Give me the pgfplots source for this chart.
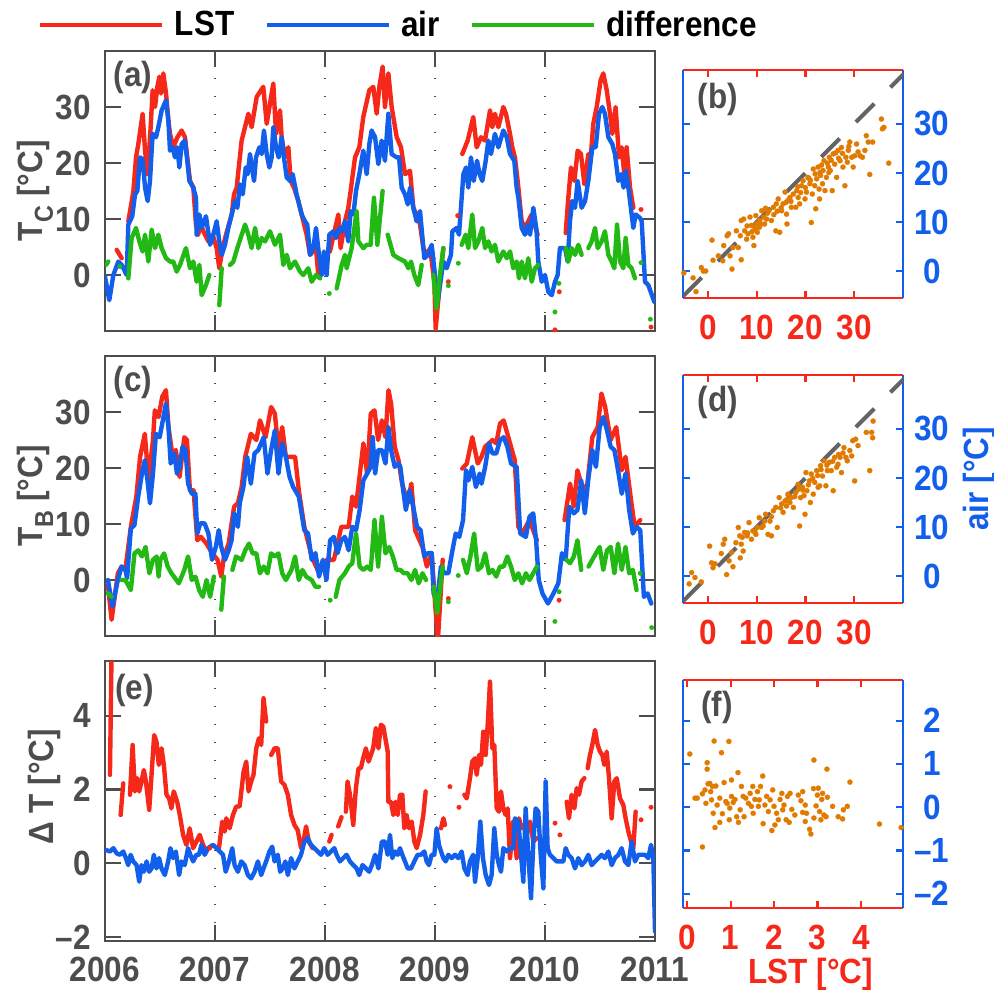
\documentclass[border=0pt]{standalone}
\usepackage{fontspec}
\setmainfont{Liberation Sans}[FakeStretch=0.9]
\usepackage{pgfplots}
\pgfplotsset{compat=1.18}
\definecolor{cred}{RGB}{245,40,25}
\definecolor{cblue}{RGB}{18,95,235}
\definecolor{cgreen}{RGB}{35,185,20}
\definecolor{corange}{RGB}{224,122,0}
\definecolor{cgray}{RGB}{77,77,77}
\definecolor{cdash}{RGB}{100,100,100}
\newcommand\ff{\fontsize{17.5}{20}\selectfont\bfseries}
\newcommand\sub[1]{\raisebox{-0.3em}{\fontsize{13}{13}\selectfont #1}}
\pgfplotsset{
 /pgf/number format/assume math mode=true,
 leftpanel/.style={
   scale only axis, width=275pt, height=140pt,
   xmin=2006, xmax=2011,
   xtick={2006,2007,2008,2009,2010,2011},
   xmajorgrids,
   grid style={cgray, line width=0.8pt, dash pattern=on 0.7pt off 8.3pt},
   axis line style={cgray, line width=1.15pt},
   tick style={cgray, line width=1.1pt},
   major tick length=8pt,
   tick align=inside, xtick pos=both, ytick pos=both,
   tick label style={font=\ff, text=cgray, inner sep=0pt},
   yticklabel style={anchor=east, xshift=-7pt},
   ylabel style={font=\ff, text=cgray, anchor=center},
   unbounded coords=jump,
   every axis plot/.append style={line width=2.2pt, line join=round, line cap=round},
 },
 dots/.style={only marks, mark=*, mark size=1.15pt, mark options={line width=0.1pt}, forget plot},
 rightpanel/.style={
   scale only axis, width=110pt, height=114pt,
   separate axis lines,
   x axis line style={cred, line width=1.1pt},
   y axis line style={cblue, line width=1.1pt},
   xtick style={cred, line width=1.1pt},
   ytick style={cblue, line width=1.1pt},
   major tick length=3.5pt,
   tick align=inside, xtick pos=both, ytick pos=both,
   yticklabel pos=right,
   xticklabel style={font=\ff, text=cred, inner sep=0pt, anchor=center, yshift=-14.8pt},
   yticklabel style={font=\ff, text=cblue, inner sep=0pt, anchor=center, xshift=14.3pt},
 },
 scat/.style={only marks, mark=*, mark size=1.3pt, color=corange, mark options={line width=0.1pt}},
 diag/.style={cdash, line width=2pt, dash pattern=on 13pt off 11.5pt},
}
\begin{document}
\begin{tikzpicture}
\useasboundingbox (0pt,0pt) rectangle (497pt,-494.5pt);

% ---------------- (a) ----------------
\begin{axis}[leftpanel, at={(52.5pt,-25.5pt)}, anchor=north west,
  ymin=-10, ymax=40, ytick={0,10,20,30}, yticklabels={0,10,20,30}, xticklabels={},
  ylabel={T\sub{C} [°C]}, ylabel style={at={(axis description cs:-0.127,0.5)}},
  legend columns=3,
  legend style={draw=none, fill=none, at={(-0.1218,1.0929)}, anchor=west, font=\ff, inner sep=0pt, outer sep=0pt,
    nodes={inner sep=0pt, text=black},
    /tikz/every odd column/.append style={column sep=5pt},
    /tikz/every even column/.append style={column sep=15pt}},
  legend image code/.code={\draw[#1, line width=2.4pt, line cap=butt] (0pt,0pt) -- (61pt,0pt);},
]
\addplot[cred] coordinates {(2006.106,4.5) (2006.152,3.0) (2006.18,nan)
(2006.212,9.6) (2006.233,12.0) (2006.258,15.0) (2006.282,21.0) (2006.303,23.4) (2006.342,28.8) (2006.364,22.2) (2006.388,18.0) (2006.415,26.4) (2006.433,33.0) (2006.455,30.0) (2006.476,33.6) (2006.494,35.4) (2006.509,32.4) (2006.530,36.0) (2006.555,32.4) (2006.576,27.6) (2006.591,25.2) (2006.621,22.8) (2006.658,24.6) (2006.697,25.8) (2006.727,24.6) (2006.748,21.0) (2006.773,16.8) (2006.803,15.6) (2006.827,9.0) (2006.848,7.2) (2006.864,9.6) (2006.894,7.8) (2006.939,6.0) (2006.979,7.2) (2007.015,4.8) (2007.039,1.2) (2007.070,4.8) (2007.100,7.2) (2007.152,10.8) (2007.173,14.4) (2007.197,15.6) (2007.242,24.0) (2007.273,26.4) (2007.303,28.8) (2007.333,26.4) (2007.379,31.8) (2007.439,33.6) (2007.470,27.0) (2007.530,34.2) (2007.555,25.2) (2007.591,29.4) (2007.606,24.6) (2007.636,21.0) (2007.667,22.8) (2007.688,16.8) (2007.718,15.6) (2007.758,13.2) (2007.788,10.8) (2007.833,7.2) (2007.864,3.6) (2007.918,4.8) (2007.939,0) (2007.99,nan)
(2008.045,4.2) (2008.121,10.8) (2008.142,4.8) (2008.182,9.6) (2008.212,12.0) (2008.233,15.0) (2008.273,21.0) (2008.312,22.8) (2008.348,28.2) (2008.403,33.0) (2008.439,33.6) (2008.470,28.8) (2008.494,33.6) (2008.524,37.2) (2008.545,30.0) (2008.576,36.0) (2008.606,30.0) (2008.652,24.6) (2008.691,22.8) (2008.727,18.0) (2008.773,18.6) (2008.803,12.0) (2008.833,10.8) (2008.864,9.0) (2008.894,4.8) (2008.924,3.6) (2008.955,4.8) (2008.994,-1.2) (2009.006,-9.6) (2009.045,-1.2) (2009.076,4.8) (2009.1,nan)
(2009.248,21.6) (2009.297,24.0) (2009.348,28.2) (2009.379,22.8) (2009.418,24.6) (2009.455,24.0) (2009.500,29.4) (2009.521,26.4) (2009.545,28.8) (2009.576,26.4) (2009.621,30.0) (2009.645,28.8) (2009.682,25.2) (2009.703,22.8) (2009.727,21.0) (2009.758,15.6) (2009.788,9.6) (2009.818,8.4) (2009.848,9.6) (2009.879,10.8) (2009.933,7.2) (2009.96,nan)
(2010.188,7.5) (2010.212,13.8) (2010.236,19.2) (2010.267,16.8) (2010.297,22.2) (2010.327,21.6) (2010.358,16.2) (2010.394,21.6) (2010.418,21.6) (2010.439,27.0) (2010.470,30.0) (2010.506,34.8) (2010.530,36.0) (2010.561,33.0) (2010.591,28.8) (2010.612,25.2) (2010.642,30.0) (2010.673,21.0) (2010.697,22.8) (2010.721,18.0) (2010.742,22.8) (2010.773,15.6) (2010.803,12.0)};
\addlegendentry{LST}
\addplot[cblue] coordinates {(2006.000,-0.3) (2006.039,-4.5) (2006.076,0) (2006.121,2.4) (2006.152,1.8) (2006.182,0.6) (2006.197,0) (2006.212,9.0) (2006.248,10.5) (2006.273,14.4) (2006.294,15.0) (2006.318,21.0) (2006.342,20.7) (2006.364,15.6) (2006.388,13.2) (2006.409,16.8) (2006.433,25.2) (2006.464,24.6) (2006.485,26.4) (2006.515,29.4) (2006.555,31.2) (2006.576,27.6) (2006.591,22.2) (2006.615,22.8) (2006.636,21.0) (2006.658,22.8) (2006.676,19.2) (2006.697,23.4) (2006.727,24.0) (2006.748,20.4) (2006.767,16.8) (2006.803,15.6) (2006.827,13.8) (2006.833,7.2) (2006.858,10.8) (2006.879,8.4) (2006.918,10.5) (2006.955,5.4) (2006.985,7.2) (2007.015,9.6) (2007.039,6.0) (2007.061,3.6) (2007.091,5.4) (2007.121,8.4) (2007.152,10.8) (2007.182,13.2) (2007.203,12.0) (2007.227,16.2) (2007.252,14.4) (2007.279,19.2) (2007.297,18.0) (2007.318,21.6) (2007.355,16.8) (2007.373,21.0) (2007.403,22.8) (2007.424,21.6) (2007.445,25.8) (2007.470,21.6) (2007.494,19.2) (2007.515,21.0) (2007.530,26.4) (2007.555,22.8) (2007.579,21.0) (2007.606,24.6) (2007.627,21.0) (2007.652,17.4) (2007.682,16.8) (2007.706,18.0) (2007.742,14.4) (2007.788,10.8) (2007.818,9.6) (2007.839,9.0) (2007.864,3.6) (2007.894,4.8) (2007.918,8.4) (2007.942,4.2) (2007.970,0) (2007.991,4.2) (2008.015,0) (2008.039,7.2) (2008.076,7.8) (2008.100,6.6) (2008.130,8.4) (2008.152,7.8) (2008.182,9.6) (2008.212,6.0) (2008.233,11.4) (2008.258,10.8) (2008.282,15.0) (2008.312,18.0) (2008.348,22.2) (2008.379,18.0) (2008.403,23.4) (2008.424,25.8) (2008.455,24.6) (2008.485,19.8) (2008.515,24.0) (2008.545,20.4) (2008.576,28.8) (2008.606,21.6) (2008.652,21.0) (2008.673,21.0) (2008.697,15.6) (2008.727,14.4) (2008.752,12.6) (2008.773,15.6) (2008.803,12.0) (2008.833,9.6) (2008.864,11.4) (2008.903,3.0) (2008.939,3.6) (2008.970,5.4) (2009.000,0) (2009.024,-4.8) (2009.076,2.4) (2009.106,1.2) (2009.145,3.6) (2009.158,7.8) (2009.197,8.4) (2009.218,7.2) (2009.236,12.0) (2009.258,18.0) (2009.282,19.2) (2009.303,15.6) (2009.327,21.0) (2009.352,16.8) (2009.382,20.4) (2009.406,18.0) (2009.430,16.8) (2009.461,20.4) (2009.485,24.0) (2009.509,21.6) (2009.545,25.2) (2009.576,22.8) (2009.621,25.8) (2009.652,24.6) (2009.682,21.6) (2009.721,20.4) (2009.742,15.6) (2009.758,13.8) (2009.788,8.4) (2009.818,7.2) (2009.842,9.0) (2009.864,7.2) (2009.894,12.0) (2009.924,7.8) (2009.939,2.4) (2009.970,-1.2) (2010.000,0) (2010.030,-3.0) (2010.061,-3.6) (2010.091,-1.2) (2010.115,0) (2010.136,4.8) (2010.182,4.8) (2010.206,2.4) (2010.227,9.6) (2010.248,13.2) (2010.273,12.0) (2010.297,16.8) (2010.333,12.0) (2010.364,13.2) (2010.394,16.8) (2010.430,22.8) (2010.461,22.8) (2010.491,28.8) (2010.521,30.0) (2010.545,28.8) (2010.576,24.6) (2010.612,23.4) (2010.636,21.6) (2010.667,16.8) (2010.691,18.0) (2010.715,15.6) (2010.733,18.6) (2010.758,15.6) (2010.803,8.4) (2010.824,10.8) (2010.864,10.2) (2010.879,9.6) (2010.909,-1.2) (2010.939,-1.8) (2010.994,-4.8)};
\addlegendentry{air}
\addplot[cgreen] coordinates {(2006.009,1.8) (2006.030,2.4) (2006.05,nan) (2006.212,-0.6) (2006.242,6.6) (2006.282,8.4) (2006.312,6.0) (2006.342,4.2) (2006.364,7.2) (2006.394,2.4) (2006.424,8.1) (2006.455,4.8) (2006.485,7.2) (2006.515,4.8) (2006.555,3.0) (2006.591,2.4) (2006.621,2.4) (2006.652,0.6) (2006.682,1.8) (2006.736,4.8) (2006.773,1.2) (2006.803,2.4) (2006.833,-1.2) (2006.858,1.8) (2006.879,-3.6) (2006.918,-1.8) (2006.948,0) (2006.97,nan) (2007.039,-5.4) (2007.061,1.2) (2007.08,nan) (2007.136,1.8) (2007.167,2.4) (2007.203,4.8) (2007.233,6.6) (2007.273,9.0) (2007.303,7.2) (2007.333,4.8) (2007.364,8.4) (2007.394,4.8) (2007.424,6.6) (2007.455,6.0) (2007.500,7.8) (2007.545,5.4) (2007.591,7.2) (2007.621,1.8) (2007.652,3.6) (2007.682,1.2) (2007.727,2.4) (2007.773,0.6) (2007.803,0) (2007.848,1.2) (2007.879,-1.2) (2007.918,0) (2007.955,-0.6) (2007.98,nan) (2008.106,-2.4) (2008.152,1.8) (2008.182,3.6) (2008.197,1.2) (2008.242,4.8) (2008.288,11.4) (2008.303,6.0) (2008.348,4.8) (2008.379,5.4) (2008.415,5.4) (2008.445,13.8) (2008.476,5.4) (2008.524,15.0) (2008.54,nan) (2008.570,7.2) (2008.621,3.6) (2008.667,3.0) (2008.727,2.4) (2008.758,1.2) (2008.782,2.4) (2008.812,0) (2008.848,-1.8) (2008.879,1.8) (2008.9,nan) (2008.985,0) (2009.015,-6.0) (2009.045,0) (2009.076,4.8) (2009.1,nan) (2009.242,5.4) (2009.279,7.2) (2009.303,4.8) (2009.339,10.8) (2009.364,4.8) (2009.394,6.0) (2009.430,8.4) (2009.455,4.8) (2009.485,6.0) (2009.515,4.2) (2009.545,5.4) (2009.576,2.4) (2009.621,4.2) (2009.652,3.0) (2009.682,4.2) (2009.712,1.2) (2009.742,2.4) (2009.764,-0.6) (2009.788,2.4) (2009.818,-0.6) (2009.848,3.0) (2009.879,-1.2) (2009.909,1.2) (2009.939,1.8) (2009.96,nan) (2010.188,4.8) (2010.212,2.4) (2010.242,4.8) (2010.273,3.6) (2010.303,5.4) (2010.333,3.6) (2010.36,nan) (2010.394,4.8) (2010.424,6.0) (2010.455,8.4) (2010.479,4.8) (2010.515,6.0) (2010.545,7.8) (2010.576,3.6) (2010.606,2.4) (2010.630,1.2) (2010.655,9.0) (2010.682,2.4) (2010.712,1.2) (2010.733,6.6) (2010.758,1.8) (2010.788,1.2) (2010.818,-0.6)};
\addlegendentry{difference}
\addplot[cred, dots] coordinates {(2009.121,-1.2) (2009.206,10.6) (2010.091,-9.8) (2010.13,-3.0) (2010.873,11.7) (2010.964,-9.3)};
\addplot[cgreen, dots] coordinates {(2006.136,1.5) (2008.039,-3.3) (2009.121,-1.9) (2009.212,2.1) (2010.091,-6.6) (2010.127,-1.5) (2010.873,2.2) (2010.958,-7.9)};
\node[font=\ff, text=cgray] at (rel axis cs:0.051,0.907) {(a)};
\end{axis}

% ---------------- (c) ----------------
\begin{axis}[leftpanel, at={(52.5pt,-178pt)}, anchor=north west,
  ymin=-10, ymax=40, ytick={0,10,20,30}, yticklabels={0,10,20,30}, xticklabels={},
  ylabel={T\sub{B} [°C]}, ylabel style={at={(axis description cs:-0.127,0.5)}}]
\addplot[cred] coordinates {(2006.027,-1.0) (2006.060,-7.1) (2006.117,1.2) (2006.151,2.4) (2006.185,1.8) (2006.235,9.5) (2006.285,14.9) (2006.319,22.0) (2006.362,26.1) (2006.396,17.8) (2006.436,25.0) (2006.453,30.3) (2006.487,29.1) (2006.520,32.7) (2006.554,33.9) (2006.577,27.3) (2006.611,22.6) (2006.644,23.2) (2006.678,18.4) (2006.721,25.5) (2006.745,25.0) (2006.772,16.0) (2006.805,16.0) (2006.839,7.1) (2006.872,7.7) (2006.923,6.5) (2006.973,4.8) (2007.023,3.6) (2007.057,0.6) (2007.081,4.2) (2007.124,6.5) (2007.174,13.1) (2007.208,13.7) (2007.242,16.6) (2007.275,22.0) (2007.326,26.1) (2007.376,25.0) (2007.409,28.5) (2007.460,25.5) (2007.510,30.9) (2007.544,29.7) (2007.577,23.2) (2007.611,27.3) (2007.644,22.0) (2007.728,22.0) (2007.762,16.0) (2007.812,9.5) (2007.879,4.2) (2007.946,1.2) (2008.013,3.6) (2008.081,3.6) (2008.114,6.5) (2008.148,9.5) (2008.215,9.5) (2008.248,14.9) (2008.282,13.1) (2008.349,24.4) (2008.383,19.0) (2008.416,29.7) (2008.450,30.3) (2008.483,25.0) (2008.517,28.5) (2008.550,25.5) (2008.577,33.9) (2008.601,31.5) (2008.634,23.8) (2008.668,21.4) (2008.701,17.2) (2008.752,13.7) (2008.785,17.2) (2008.819,8.9) (2008.886,5.9) (2008.926,2.4) (2008.970,4.8) (2009.003,-4.8) (2009.027,-10.5) (2009.070,3.6) (2009.09,nan) (2009.248,19.9) (2009.289,20.8) (2009.339,25.5) (2009.389,20.8) (2009.423,22.0) (2009.456,23.8) (2009.490,24.4) (2009.523,25.0) (2009.557,24.4) (2009.591,27.9) (2009.624,28.5) (2009.658,26.1) (2009.725,21.4) (2009.758,9.5) (2009.792,8.3) (2009.859,10.7) (2009.926,7.1) (2009.95,nan) (2010.178,10.7) (2010.228,17.2) (2010.262,13.1) (2010.295,19.6) (2010.329,17.2) (2010.379,16.0) (2010.430,25.5) (2010.480,27.3) (2010.513,33.3) (2010.547,30.9) (2010.597,25.0) (2010.648,27.3) (2010.698,19.6) (2010.732,22.0) (2010.782,14.3) (2010.815,9.5) (2010.866,10.7)};
\addplot[cblue] coordinates {(2006.027,0) (2006.067,-4.75) (2006.117,0) (2006.151,2.4) (2006.185,1.8) (2006.201,0.3) (2006.235,9.2) (2006.268,9.8) (2006.302,14.9) (2006.336,19.0) (2006.362,21.4) (2006.386,17.8) (2006.409,13.7) (2006.436,19.0) (2006.463,26.1) (2006.497,25.5) (2006.520,27.9) (2006.554,31.5) (2006.577,27.3) (2006.597,20.8) (2006.631,22.6) (2006.654,19.0) (2006.678,20.2) (2006.705,23.8) (2006.732,23.2) (2006.755,17.2) (2006.789,15.4) (2006.822,15.4) (2006.839,8.3) (2006.866,10.1) (2006.906,10.1) (2006.940,8.3) (2006.973,3.6) (2007.007,5.9) (2007.034,8.9) (2007.057,5.9) (2007.091,3.6) (2007.124,5.3) (2007.151,7.1) (2007.174,11.9) (2007.208,9.5) (2007.225,13.7) (2007.258,16.6) (2007.292,22.0) (2007.326,17.2) (2007.359,22.6) (2007.393,23.2) (2007.443,25.5) (2007.477,19.0) (2007.510,23.2) (2007.544,26.7) (2007.577,19.0) (2007.611,24.4) (2007.644,22.0) (2007.678,18.4) (2007.711,16.6) (2007.762,14.9) (2007.812,8.9) (2007.846,8.3) (2007.879,3.6) (2007.913,4.8) (2007.946,0.6) (2007.980,3.6) (2008.013,0) (2008.047,7.1) (2008.081,7.7) (2008.114,4.8) (2008.148,7.1) (2008.181,7.7) (2008.215,5.3) (2008.248,9.5) (2008.282,8.9) (2008.315,12.5) (2008.349,17.8) (2008.383,19.0) (2008.416,20.2) (2008.433,25.5) (2008.456,19.0) (2008.483,23.2) (2008.517,23.2) (2008.550,20.8) (2008.577,27.3) (2008.601,23.2) (2008.634,20.2) (2008.668,20.8) (2008.685,20.2) (2008.711,16.0) (2008.735,12.5) (2008.768,16.0) (2008.802,13.1) (2008.836,9.5) (2008.869,8.9) (2008.903,4.2) (2008.936,4.8) (2008.970,4.8) (2008.987,-2.4) (2009.020,-3.6) (2009.054,2.4) (2009.087,1.2) (2009.121,1.2) (2009.154,4.8) (2009.188,8.3) (2009.221,7.7) (2009.255,10.7) (2009.282,19.6) (2009.305,17.8) (2009.339,20.2) (2009.372,16.6) (2009.406,19.0) (2009.423,17.2) (2009.456,20.2) (2009.490,24.4) (2009.523,22.6) (2009.557,22.6) (2009.591,25.0) (2009.624,25.5) (2009.658,23.8) (2009.691,20.8) (2009.742,20.2) (2009.775,8.3) (2009.826,7.7) (2009.859,11.3) (2009.893,11.9) (2009.919,7.1) (2009.943,0) (2009.977,-2.4) (2010.027,-4.2) (2010.077,-2.4) (2010.121,-0.6) (2010.154,4.8) (2010.188,3.6) (2010.221,13.1) (2010.262,11.9) (2010.295,12.5) (2010.329,17.8) (2010.362,11.9) (2010.396,18.4) (2010.430,23.2) (2010.463,20.2) (2010.497,27.3) (2010.530,29.1) (2010.564,26.7) (2010.597,23.8) (2010.631,23.2) (2010.664,19.6) (2010.698,15.4) (2010.732,19.0) (2010.765,12.5) (2010.799,8.3) (2010.832,9.5) (2010.866,8.9) (2010.899,-3.0) (2010.933,-2.4) (2010.966,-4.2)};
\addplot[cgreen] coordinates {(2006.027,-2.4) (2006.060,-3.0) (2006.08,nan) (2006.151,0) (2006.185,0) (2006.235,-1.8) (2006.268,4.75) (2006.302,5.3) (2006.336,4.2) (2006.369,5.9) (2006.403,1.2) (2006.436,3.6) (2006.470,4.2) (2006.487,0.6) (2006.503,3.6) (2006.537,4.75) (2006.570,2.4) (2006.604,1.2) (2006.671,-0.6) (2006.721,1.8) (2006.755,4.2) (2006.789,0) (2006.822,0.6) (2006.856,-1.8) (2006.889,-3.0) (2006.923,0) (2006.956,-3.0) (2006.990,0.6) (2007.01,nan) (2007.057,-5.3) (2007.081,0.6) (2007.10,nan) (2007.158,1.8) (2007.191,4.2) (2007.242,3.6) (2007.275,5.3) (2007.309,6.5) (2007.342,4.75) (2007.376,4.75) (2007.409,1.2) (2007.443,2.4) (2007.477,1.2) (2007.510,4.75) (2007.544,4.2) (2007.577,4.75) (2007.611,1.2) (2007.644,0) (2007.695,1.8) (2007.728,4.2) (2007.762,0) (2007.795,1.8) (2007.829,0.6) (2007.879,0) (2007.913,-1.2) (2007.946,-1.2) (2007.97,nan) (2008.097,-3.0) (2008.131,0) (2008.181,1.2) (2008.215,2.4) (2008.248,3.0) (2008.282,8.3) (2008.315,2.4) (2008.349,1.8) (2008.383,2.4) (2008.416,1.8) (2008.450,10.7) (2008.483,2.4) (2008.517,11.3) (2008.550,4.75) (2008.584,5.9) (2008.617,4.2) (2008.651,1.8) (2008.685,1.8) (2008.718,1.2) (2008.752,1.2) (2008.785,0) (2008.819,1.8) (2008.852,-0.6) (2008.886,1.2) (2008.919,0) (2008.95,nan) (2008.987,-1.2) (2009.020,-5.9) (2009.070,2.4) (2009.09,nan) (2009.255,3.6) (2009.289,1.2) (2009.322,4.2) (2009.356,8.3) (2009.389,1.8) (2009.423,2.4) (2009.456,4.75) (2009.490,1.2) (2009.523,1.8) (2009.557,0.6) (2009.591,2.4) (2009.624,2.4) (2009.658,4.2) (2009.691,2.4) (2009.725,0) (2009.758,1.2) (2009.792,-0.6) (2009.826,1.2) (2009.859,0) (2009.893,1.2) (2009.926,2.4) (2009.95,nan) (2010.195,3.6) (2010.228,3.0) (2010.262,4.2) (2010.295,7.1) (2010.329,1.8) (2010.36,nan) (2010.396,2.4) (2010.430,3.6) (2010.463,4.75) (2010.497,5.9) (2010.530,1.8) (2010.564,5.3) (2010.597,5.9) (2010.631,1.2) (2010.664,6.5) (2010.698,1.8) (2010.732,5.9) (2010.765,1.2) (2010.799,1.8) (2010.832,-1.8)};
\addplot[cred, dots] coordinates {(2009.121,-3.3) (2010.128,-3.6)};
\addplot[cgreen, dots] coordinates {(2008.047,-3.6) (2009.121,-3.9) (2009.211,0.8) (2010.128,-2.1) (2010.866,1.2) (2010.09,-7.4) (2010.97,-8.5)};
\node[font=\ff, text=cgray] at (rel axis cs:0.051,0.904) {(c)};
\end{axis}

% ---------------- (e) ----------------
\begin{axis}[leftpanel, at={(52.5pt,-330.5pt)}, anchor=north west,
  ymin=-2.11, ymax=5.49, ytick={-2,0,2,4}, yticklabels={–2,0,2,4},
  xticklabels={2006,2007,2008,2009,2010,2011},
  xticklabel style={anchor=center, yshift=-14.2pt},
  ylabel={Δ T [°C]}, ylabel style={at={(axis description cs:-0.111,0.55)}}]
\addplot[cred] coordinates {(2006.045,2.40) (2006.060,5.8) (2006.07,nan) (2006.142,1.31) (2006.166,2.17) (2006.19,nan) (2006.227,1.86) (2006.251,3.21) (2006.272,1.95) (2006.293,2.31) (2006.311,1.95) (2006.332,2.22) (2006.353,2.53) (2006.372,2.22) (2006.402,1.45) (2006.423,2.40) (2006.447,3.48) (2006.468,3.30) (2006.489,2.67) (2006.514,3.12) (2006.535,2.67) (2006.559,1.86) (2006.583,1.76) (2006.604,1.49) (2006.625,1.95) (2006.656,1.67) (2006.680,1.31) (2006.710,0.77) (2006.740,0.50) (2006.770,0.95) (2006.801,0.41) (2006.831,0.59) (2006.861,0.77) (2006.891,0.50) (2006.921,0.32) (2006.94,nan) (2007.036,0.41) (2007.066,1.13) (2007.088,0.86) (2007.103,1.22) (2007.133,0.95) (2007.163,1.31) (2007.193,1.54) (2007.224,1.54) (2007.260,2.49) (2007.284,2.76) (2007.305,1.95) (2007.329,2.22) (2007.350,2.40) (2007.375,3.12) (2007.399,3.39) (2007.420,3.21) (2007.441,4.48) (2007.465,3.85) (2007.48,nan) (2007.511,2.94) (2007.541,3.12) (2007.571,3.12) (2007.601,2.22) (2007.631,2.13) (2007.662,1.86) (2007.692,1.31) (2007.722,1.04) (2007.752,0.90) (2007.782,0.41) (2007.804,0.59) (2007.828,1.00) (2007.852,0.59) (2007.888,0.41) (2007.90,nan) (2008.039,0.59) (2008.060,0.77) (2008.08,nan) (2008.12,1.0) (2008.15,1.25) (2008.17,nan) (2008.190,1.40) (2008.205,2.22) (2008.227,1.86) (2008.257,1.04) (2008.281,2.04) (2008.305,2.58) (2008.326,2.58) (2008.347,2.85) (2008.372,3.12) (2008.396,2.76) (2008.417,2.94) (2008.438,3.12) (2008.462,3.67) (2008.486,3.12) (2008.508,3.76) (2008.530,3.71) (2008.570,3.03) (2008.576,1.67) (2008.600,1.67) (2008.621,1.31) (2008.642,1.67) (2008.661,1.31) (2008.682,1.86) (2008.703,1.86) (2008.721,0.95) (2008.742,1.31) (2008.764,0.95) (2008.788,1.13) (2008.812,0.59) (2008.833,0.41) (2008.864,0.77) (2008.894,1.31) (2008.915,1.95) (2008.93,nan) (2009.055,0.95) (2009.076,1.22) (2009.091,1.04) (2009.10,nan) (2009.267,1.86) (2009.288,1.76) (2009.318,2.31) (2009.339,2.76) (2009.364,2.85) (2009.379,2.40) (2009.400,2.94) (2009.418,2.67) (2009.439,3.57) (2009.461,2.94) (2009.479,3.76) (2009.500,4.93) (2009.521,3.12) (2009.539,3.21) (2009.561,1.49) (2009.582,1.40) (2009.600,1.95) (2009.621,1.49) (2009.642,1.31) (2009.661,1.49) (2009.682,0.14) (2009.712,1.13) (2009.742,0.14) (2009.764,1.22) (2009.788,0.95) (2009.812,1.04) (2009.842,0.86) (2009.864,1.13) (2009.894,0.59) (2009.924,0.68) (2009.94,nan) (2010.197,1.67) (2010.218,1.22) (2010.242,1.86) (2010.267,1.49) (2010.288,2.04) (2010.309,1.86) (2010.333,2.22) (2010.358,2.31) (2010.37,nan) (2010.388,2.58) (2010.409,2.94) (2010.430,3.21) (2010.455,3.62) (2010.479,3.21) (2010.500,3.03) (2010.521,2.94) (2010.539,2.67) (2010.561,3.03) (2010.582,2.31) (2010.606,1.22) (2010.630,2.22) (2010.652,2.31) (2010.682,1.76) (2010.712,1.58) (2010.733,1.22) (2010.758,0.86) (2010.782,0.59) (2010.803,0.41) (2010.824,1.40)};
\addplot[cblue] coordinates {(2006.009,0.36) (2006.045,0.32) (2006.076,0.41) (2006.106,0.27) (2006.136,0.23) (2006.166,0.32) (2006.190,0.14) (2006.211,-0.05) (2006.233,0.23) (2006.257,0.05) (2006.287,-0.05) (2006.311,-0.50) (2006.332,-0.05) (2006.353,-0.23) (2006.378,0.05) (2006.402,-0.23) (2006.423,-0.14) (2006.444,0.23) (2006.468,-0.14) (2006.492,0.14) (2006.514,-0.14) (2006.544,-0.32) (2006.574,0.05) (2006.595,0.41) (2006.619,0.14) (2006.644,0.32) (2006.674,-0.32) (2006.695,0.05) (2006.725,-0.05) (2006.755,0.41) (2006.776,0.23) (2006.801,0.05) (2006.831,0.23) (2006.855,0.23) (2006.876,0.50) (2006.906,0.23) (2006.937,0.41) (2006.982,0.50) (2007.012,0.41) (2007.042,0.32) (2007.073,0.23) (2007.097,-0.23) (2007.127,0.05) (2007.157,0.41) (2007.178,-0.05) (2007.208,-0.23) (2007.239,0.05) (2007.269,-0.05) (2007.299,-0.32) (2007.329,-0.41) (2007.360,-0.23) (2007.390,0.05) (2007.420,-0.32) (2007.441,-0.14) (2007.465,0.05) (2007.495,0.32) (2007.520,0.45) (2007.541,0.05) (2007.571,0.23) (2007.592,-0.23) (2007.616,-0.14) (2007.640,0.05) (2007.662,-0.32) (2007.692,0.14) (2007.722,-0.14) (2007.752,0.05) (2007.782,0.23) (2007.813,0.59) (2007.843,0.68) (2007.873,0.50) (2007.903,0.41) (2007.934,0.32) (2007.964,0.23) (2007.994,0.41) (2008.024,0.23) (2008.054,0.32) (2008.085,0.41) (2008.106,0.23) (2008.136,0.05) (2008.166,0.14) (2008.196,0.23) (2008.227,0.05) (2008.257,-0.05) (2008.287,-0.14) (2008.311,-0.32) (2008.341,-0.05) (2008.372,-0.14) (2008.402,-0.23) (2008.426,-0.05) (2008.456,0.23) (2008.486,-0.14) (2008.517,0.59) (2008.545,0.59) (2008.570,0.23) (2008.591,0.77) (2008.612,0.14) (2008.636,0.32) (2008.661,0.23) (2008.682,0.41) (2008.703,0.23) (2008.727,0.05) (2008.752,-0.14) (2008.782,-0.14) (2008.812,0.05) (2008.842,0.23) (2008.873,0.23) (2008.903,0.32) (2008.924,0.05) (2008.945,-0.05) (2008.970,0.23) (2008.994,0.23) (2009.015,0.95) (2009.036,0.50) (2009.055,0.32) (2009.076,0.14) (2009.097,0.05) (2009.121,0.23) (2009.152,0.14) (2009.182,0.23) (2009.212,0.14) (2009.242,0.32) (2009.267,-0.14) (2009.297,-0.32) (2009.318,0.05) (2009.348,0.23) (2009.364,-0.50) (2009.388,0.14) (2009.412,1.13) (2009.436,0.14) (2009.461,-0.32) (2009.491,-0.59) (2009.515,-0.32) (2009.539,0.95) (2009.561,0.23) (2009.582,-0.05) (2009.600,-0.23) (2009.621,0.41) (2009.652,0.32) (2009.682,0.41) (2009.712,0.41) (2009.727,1.22) (2009.758,1.13) (2009.782,0.23) (2009.803,-0.50) (2009.824,1.49) (2009.848,0.23) (2009.873,-0.95) (2009.894,0.59) (2009.915,1.49) (2009.939,1.40) (2009.961,0.23) (2009.985,-0.68) (2010.006,2.22) (2010.024,0.41) (2010.045,0.23) (2010.076,0.14) (2010.106,0.05) (2010.136,0.05) (2010.167,0.05) (2010.188,0.41) (2010.212,0.23) (2010.242,0.14) (2010.273,-0.14) (2010.303,0.14) (2010.333,-0.05) (2010.364,0.05) (2010.394,0.23) (2010.424,-0.05) (2010.455,0.05) (2010.485,0.14) (2010.515,0.23) (2010.545,0.14) (2010.576,0.32) (2010.606,-0.05) (2010.636,0.14) (2010.667,0.23) (2010.697,0.41) (2010.727,0.05) (2010.758,-0.05) (2010.788,0.59) (2010.818,0.05) (2010.848,0.23) (2010.879,0.23) (2010.909,0.23) (2010.939,0.14) (2010.964,0.50) (2010.985,0.14) (2011.0,-1.85)};
\addplot[cred, dots] coordinates {(2006.952,0.41) (2009.136,2.08) (2009.218,1.52) (2010.091,1.09) (2010.136,0.77) (2010.873,1.18) (2010.964,1.52)};
\node[font=\ff, text=cgray] at (rel axis cs:0.054,0.896) {(e)};
\end{axis}

% ---------------- (b) ----------------
\begin{axis}[rightpanel, at={(341.65pt,-35pt)}, anchor=north west,
  xmin=-5.1, xmax=40.1, ymin=-5.5, ymax=41.0,
  xtick={0,10,20,30}, ytick={0,10,20,30}, xticklabels={0,10,20,30}, yticklabels={0,10,20,30}]
\addplot[scat] coordinates {(-5,-0.4) (-3.1,-1.4) (-2.5,-4.2) (-1.4,0.7) (-1,0) (-0.5,0) (0.8,6.3) (1,2.2) (2.1,3.1) (3,2.1) (3.2,5.2) (3.9,7.2) (4.2,7.6) (4.5,3.1) (4.9,0.4) (5.1,4.8) (5.8,8.2) (6.2,4.8) (6.6,7.2) (6.8,2.3) (6.8,10.3) (7.3,10.6) (7.5,8.2) (7.9,6.5) (8.2,7.6) (8.6,11) (8.9,9.3) (9.2,6.9) (9.4,5.2) (9.6,8.6) (9.8,11.3) (9.9,9.6) (10.1,7.9) (10.5,8.9) (10.6,10.3) (11,12.3) (11.4,11) (11.6,9.6) (12,10.6) (12.5,12.3) (13,10.3) (13.4,13) (13.9,8.2) (14,13.7) (14.4,14.7) (14.7,7.9) (15.1,12.3) (15.4,13.7) (15.8,16.1) (16.1,11.6) (16.2,9.6) (16.4,14.4) (16.8,15) (17.1,13) (17.5,15.7) (18,13) (18.2,16.4) (18.5,15) (18.8,13.7) (19.2,17.4) (19.5,18.4) (19.9,14.7) (20.2,16.1) (20.5,19.1) (20.9,17.8) (21.2,9.9) (21.4,15.7) (21.6,20.8) (21.9,17.4) (22.1,12.7) (22.3,18.8) (22.6,21.2) (22.8,16.7) (22.9,14.7) (23.1,19.5) (23.5,17.8) (23.6,20.5) (23.8,22.5) (24,16.4) (24.3,19.1) (24.7,21.2) (24.9,23.2) (25.1,20.5) (25.5,16.4) (25.7,23.9) (26,21.8) (26.4,19.1) (26.7,24.6) (27.1,22.5) (27.4,25.2) (27.7,21.2) (28.1,17.4) (28.3,23.2) (28.8,24.6) (29.1,26.3) (29.5,23.2) (29.8,21.2) (30.1,23.5) (30.5,25.9) (31.2,23.5) (31.7,23.2) (32.2,24.6) (32.5,27.6) (32.9,26.3) (33.2,19.7) (33.8,26.3) (35.6,31) (35.8,29) (36.1,29.3) (37.1,22) (21,18.5) (22,19.8) (23,20.1) (24.5,22) (25.3,22.6) (26.8,23) (27.6,24) (28.6,22.2) (20,17) (19,16) (17,14.2) (15,12.9) (13.5,11.5) (12.2,11.8) (10.8,9.5) (9,8) (8,9.2) (11.8,12.8) (14.2,12.2) (16,14) (18.4,17.2) (20.7,18.9) (23.3,21.6) (26.2,24.1) (28.9,25.4) (30.8,24.3) (24.8,20.1)};
\addplot[diag] coordinates {(-5.1,-5.1) (42,42)};
\node[font=\ff, text=cgray] at (rel axis cs:0.158,0.87) {(b)};
\end{axis}

% ---------------- (d) ----------------
\begin{axis}[rightpanel, at={(341.65pt,-187.5pt)}, anchor=north west,
  xmin=-5.1, xmax=40.1, ymin=-5.5, ymax=41.0,
  xtick={0,10,20,30}, ytick={0,10,20,30}, xticklabels={0,10,20,30}, yticklabels={0,10,20,30},
  ylabel={air [°C]}, ylabel style={at={(axis description cs:1.344,0.545)}, anchor=center, font=\ff, text=cblue}]
\addplot[scat] coordinates {(-3.9,-1.6) (-3.4,0.7) (-2.7,-0.3) (-1.4,-1.2) (0.3,6.1) (0.7,2.7) (1,1.7) (1.4,2.5) (2.7,4.6) (3.1,6.5) (3.4,7.5) (3.8,0.3) (4.3,3.1) (4.8,4.8) (5.1,1.9) (5.7,6.8) (6.2,9.9) (6.5,8.2) (6.6,3.7) (6.8,6.5) (7.2,5.1) (7.5,8.9) (8,8.2) (8.4,10.9) (8.9,7.5) (9.2,9.2) (9.8,8.5) (10.1,9.9) (10.5,11.9) (11,9.9) (11.3,10.2) (11.8,12.6) (12.3,8.5) (12.7,11.2) (13,8.2) (13.4,13.3) (13.9,14) (14.2,9.9) (14.6,16) (15.1,14.7) (15.4,13) (15.8,15.3) (16.1,14.3) (16.4,16.7) (16.8,15) (17.1,16) (17.5,14) (18,17) (18.5,18.7) (18.8,10.2) (19,16) (19.4,18.1) (19.7,16.4) (19.9,12.6) (20.1,21.1) (20.3,17.4) (20.8,19.4) (21,15) (21.2,20.8) (21.6,16.7) (21.9,19.1) (22.3,21.5) (22.6,18.1) (22.9,18.4) (23.1,22.5) (23.5,20.4) (23.8,23.5) (24.2,18.4) (24.5,21.5) (24.9,23.2) (25.3,21.5) (25.7,17.4) (26,24.2) (26.4,22.2) (26.7,22.8) (27.1,24.2) (27.4,21.1) (27.9,26.2) (28.3,24.2) (28.6,23.5) (29.1,25.6) (29.5,24.5) (29.7,27.6) (30.1,19.4) (30.3,27.9) (30.8,26.6) (32.5,29.3) (33.2,21.5) (33.6,29.3) (33.8,28.2) (33.9,31.6) (21.5,19.9) (22.5,20.5) (23.2,21.7) (24.4,22.6) (25.6,23.4) (19.5,17.5) (17.8,16.2) (16.2,15.6) (14.9,13.9) (13,12.1) (11.6,11.2) (9.6,9.1) (8.1,8.8) (7,7.9) (26.8,24.8) (27.7,25.1) (20.6,18.6) (18.6,17.7)};
\addplot[diag] coordinates {(-5.1,-5.1) (42,42)};
\node[font=\ff, text=cgray] at (rel axis cs:0.158,0.878) {(d)};
\end{axis}

% ---------------- (f) ----------------
\begin{axis}[rightpanel, at={(341.65pt,-340pt)}, anchor=north west,
  xmin=-0.09, xmax=4.98, ymin=-2.33, ymax=2.94,
  xtick={0,1,2,3,4}, ytick={-2,-1,0,1,2}, xticklabels={0,1,2,3,4}, yticklabels={–2,–1,0,1,2},
  xlabel={LST [°C]}, xlabel style={at={(axis description cs:0.58,-0.29)}, anchor=center, font=\ff, text=cred}]
\addplot[scat] coordinates {(0.06,1.23) (0.18,0.21) (0.23,0.21) (0.35,-0.92) (0.35,0.31) (0.41,0.4) (0.43,0.09) (0.46,1.03) (0.46,0.88) (0.48,0.54) (0.52,0.55) (0.54,0.36) (0.56,0.17) (0.58,0.48) (0.6,-0.14) (0.62,1.53) (0.64,-0.47) (0.66,0.49) (0.69,0.05) (0.75,0.21) (0.75,-0.35) (0.79,1.26) (0.81,-0.15) (0.85,0.57) (0.89,0.13) (0.92,0.09) (0.96,1.52) (0.97,-0.29) (0.98,-0.02) (1.02,0.63) (1.02,0.25) (1.06,0.11) (1.1,0.18) (1.14,-0.22) (1.17,0.8) (1.18,-0.35) (1.22,-0.06) (1.25,0.48) (1.29,0.25) (1.31,-0.22) (1.35,0.21) (1.41,0.09) (1.45,0.32) (1.48,0.02) (1.51,0.48) (1.52,-0.14) (1.56,0.18) (1.62,0.36) (1.64,0.02) (1.66,0.17) (1.69,0.48) (1.74,0.72) (1.75,-0.38) (1.79,0.05) (1.83,0.25) (1.87,-0.1) (1.91,0.17) (1.95,-0.54) (1.97,0.4) (2,0.02) (2.02,-0.41) (2.06,-0.14) (2.1,-0.29) (2.14,0.18) (2.18,0.32) (2.2,-0.06) (2.23,0.05) (2.28,-0.29) (2.31,0.25) (2.35,-0.35) (2.37,0.32) (2.41,-0.05) (2.48,-0.18) (2.56,0.28) (2.62,0.15) (2.66,0.36) (2.66,-0.12) (2.72,0.05) (2.72,-0.33) (2.75,-0.14) (2.82,-0.51) (2.85,-0.62) (2.91,0.43) (2.92,1.09) (2.92,-0.25) (2.97,0.03) (3,0.28) (3.02,0.44) (3.05,-0.1) (3.08,-0.29) (3.1,0.18) (3.12,0.32) (3.15,-0.18) (3.2,-0.22) (3.22,0.88) (3.23,0.23) (3.35,0.02) (3.48,-0.22) (3.58,-0.27) (3.6,-0.06) (3.69,0.02) (3.75,0.58) (4.43,-0.39) (4.93,-0.47)};
\node[font=\ff, text=cgray] at (rel axis cs:0.153,0.878) {(f)};
\end{axis}
\end{tikzpicture}
\end{document}
